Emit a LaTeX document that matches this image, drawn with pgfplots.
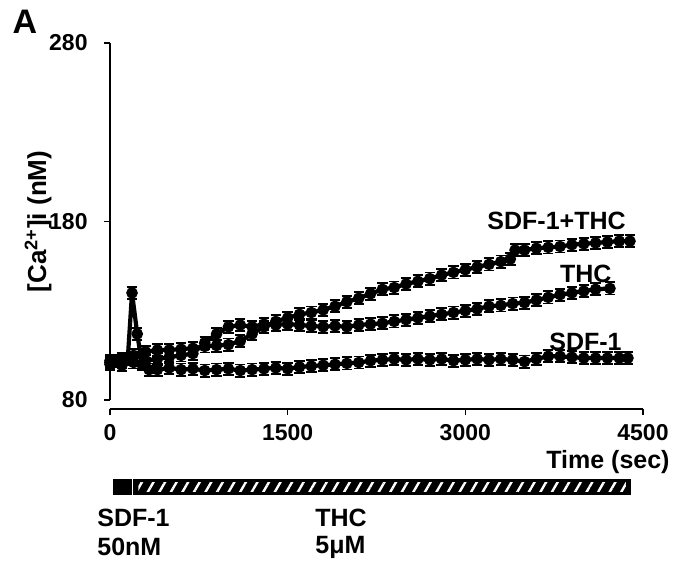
\documentclass[border=0pt]{standalone}
\usepackage{fontspec}
\setmainfont{Liberation Sans}
\usepackage{pgfplots}
\pgfplotsset{compat=1.18}
\usetikzlibrary{patterns.meta}
\pgfplotsset{trace/.style={black, line width=2.1pt, mark=*, mark size=1.8pt,
     mark options={solid},
     error bars/y dir=both, error bars/y fixed=3.4,
     error bars/error mark options={rotate=90, mark size=2.6pt, line width=0.9pt, black},
     error bars/error bar style={line width=0.9pt, black}}}

\begin{document}
\begin{tikzpicture}
\path[use as bounding box] (0,0) rectangle (338.5pt,284pt);
\node[font=\fontsize{17}{19}\selectfont\bfseries] at (12.5pt,273pt) {A};
\begin{axis}[
  at={(55pt,84pt)}, anchor=south west,
  scale only axis, width=266.5pt, height=178.5pt,
  xmin=0, xmax=4500, ymin=80, ymax=280,
  axis lines*=left,
  axis x line shift=4.5pt,
  axis line style={line width=0.8pt},
  xtick={0,1500,3000,4500}, xticklabels={},
  ytick={80,180,280}, yticklabels={},
  tick align=outside, major tick length=3pt,
  tick style={line width=0.8pt, black},
  ylabel={[Ca\textsuperscript{2+}]i (nM)},
  ylabel style={at={(axis description cs:-0.135,0.5)}, anchor=center, font=\fontsize{13}{15}\selectfont\bfseries},
  clip=false,
]
% SDF-1
\addplot[trace] coordinates {
(0,101) (50,102) (100,101) (150,103) (186,140) (230,117) (270,100) (330,97)
(400,97) (500,98) (600,97) (700,97.5) (800,96.5) (900,97) (1000,97.5) (1100,96.5)
(1200,97) (1300,97.5) (1400,98) (1500,97.5) (1600,98.5) (1700,99) (1800,99.5)
(1900,100) (2000,100.5) (2100,101) (2200,102) (2300,102.5) (2400,103) (2500,102.5)
(2600,103) (2700,102.5) (2800,103) (2900,102) (3000,102.5) (3100,103) (3200,102.5)
(3300,103) (3400,102.5) (3500,101.5) (3600,103) (3700,104.5) (3800,104.5) (3900,104)
(4000,103.5) (4100,103.5) (4200,103.5) (4300,103.5) (4373,103.5)
};
% THC
\addplot[trace] coordinates {
(0,100) (100,99.5) (200,101) (300,102) (400,103) (500,104) (600,105) (700,106)
(800,112) (900,117) (1000,121) (1100,122) (1200,121) (1300,122.5) (1400,122)
(1500,122.5) (1600,122) (1700,121.5) (1800,121) (1900,121.5) (2000,121) (2100,122)
(2200,122.5) (2300,123) (2400,124) (2500,125) (2600,126) (2700,127) (2800,128)
(2900,129) (3000,130) (3100,131) (3200,132.5) (3300,133) (3400,134) (3500,134.5)
(3600,136) (3700,137.5) (3800,139) (3900,140) (4000,141) (4100,142) (4221,142.5)
};
% SDF-1+THC
\addplot[trace] coordinates {
(0,102) (100,103) (200,105) (300,107) (400,108) (500,108) (600,108.5) (700,109)
(800,110) (900,110.5) (1000,111) (1100,113) (1200,117) (1300,121) (1400,124)
(1500,126) (1600,128) (1700,129) (1800,130.5) (1900,132.5) (2000,135) (2100,137)
(2200,139.5) (2300,142) (2400,143) (2500,145) (2600,146.5) (2700,148) (2800,150)
(2900,151.5) (3000,153) (3100,154.5) (3200,156) (3300,157.5) (3380,159) (3420,164)
(3500,164) (3600,165) (3700,165.5) (3800,166) (3900,167) (4000,167.5) (4100,168)
(4200,168.5) (4300,169) (4390,169)
};
\begin{scope}[font=\fontsize{11.5}{13}\selectfont\bfseries, every node/.style={inner sep=0pt}]
\node[anchor=east] at (axis cs:-186,280) {280};
\node[anchor=east] at (axis cs:-186,180) {180};
\node[anchor=east] at (axis cs:-186,80) {80};
\node at (axis cs:0,61.5) {0};
\node at (axis cs:1500,61.5) {1500};
\node at (axis cs:3000,61.5) {3000};
\node at (axis cs:4500,61.5) {4500};
\end{scope}
\begin{scope}[font=\fontsize{12.5}{15}\selectfont\bfseries, every node/.style={inner sep=0pt}]
\node[anchor=east] at (axis cs:4357,180.3) {SDF-1+THC};
\node[anchor=east] at (axis cs:4238,150.6) {THC};
\node[anchor=east] at (axis cs:4323,112.5) {SDF-1};
\node[anchor=east] at (axis cs:4728,45.2) {Time (sec)};
\node[anchor=west] at (axis cs:-110,13.9) {SDF-1};
\node[anchor=west] at (axis cs:-110,-2.4) {50nM};
\node[anchor=west] at (axis cs:1731,13.9) {THC};
\node[anchor=west] at (axis cs:1731,-2.4) {5μM};
\end{scope}
\fill[black] (axis cs:25,26.8) rectangle (axis cs:186,35.7);
\fill[black] (axis cs:194,26.8) rectangle (axis cs:4399,35.7);
\fill[pattern={Lines[angle=60,distance=5pt,line width=1.2pt]}, pattern color=white]
  (axis cs:240,29) rectangle (axis cs:4355,33.5);
\end{axis}
\end{tikzpicture}
\end{document}
